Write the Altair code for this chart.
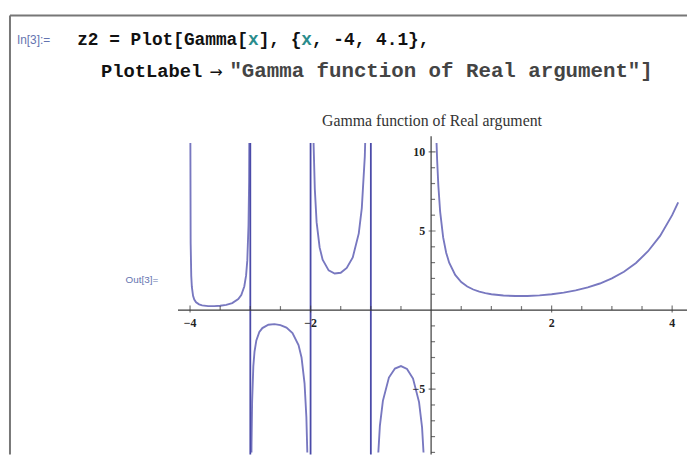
import altair as alt
import pandas as pd

# ---- curve values (Gamma[x] on -4..4.1), one list pair per branch ----
b1_x = [-3.997, -3.99, -3.98, -3.97, -3.95, -3.93, -3.9, -3.85, -3.8, -3.7, -3.6, -3.5, -3.4, -3.3, -3.2, -3.15, -3.1, -3.07, -3.05, -3.03, -3.02, -3.01]
b1_y = [13.9, 4.23, 2.15, 1.46, 0.90, 0.67, 0.49, 0.36, 0.30, 0.25, 0.25, 0.27, 0.33, 0.44, 0.69, 0.95, 1.49, 2.19, 3.14, 5.36, 8.13, 16.5]
b2_x = [-2.99, -2.98, -2.97, -2.95, -2.93, -2.9, -2.85, -2.8, -2.7, -2.6, -2.5, -2.4, -2.3, -2.2, -2.15, -2.1, -2.07, -2.05, -2.03, -2.01]
b2_y = [-16.9, -8.55, -5.78, -3.56, -2.62, -1.92, -1.39, -1.14, -0.93, -0.89, -0.95, -1.11, -1.45, -2.21, -3.00, -4.63, -6.74, -9.58, -16.2, -49.5]
b3_x = [-1.99, -1.97, -1.95, -1.93, -1.9, -1.85, -1.8, -1.7, -1.6, -1.5, -1.4, -1.3, -1.2, -1.15, -1.1, -1.07, -1.05, -1.03, -1.01]
b3_y = [50.5, 17.2, 10.5, 7.68, 5.56, 3.96, 3.19, 2.51, 2.31, 2.36, 2.66, 3.33, 4.85, 6.45, 9.72, 13.9, 19.7, 32.9, 99.6]
b4_x = [-0.99, -0.97, -0.95, -0.93, -0.9, -0.85, -0.8, -0.7, -0.6, -0.5, -0.4, -0.3, -0.2, -0.15, -0.1, -0.07, -0.05, -0.03, -0.01]
b4_y = [-100.4, -33.8, -20.5, -14.8, -10.6, -7.32, -5.74, -4.27, -3.70, -3.54, -3.72, -4.33, -5.82, -7.42, -10.7, -14.9, -20.6, -33.9, -100.6]
b5_x = [0.01, 0.03, 0.05, 0.07, 0.09, 0.1, 0.12, 0.15, 0.2, 0.25, 0.3, 0.4, 0.5, 0.6, 0.7, 0.8, 0.9, 1.0, 1.2, 1.4, 1.46, 1.6, 1.8, 2.0, 2.2, 2.4, 2.6, 2.8, 3.0, 3.2, 3.4, 3.6, 3.8, 4.0, 4.1]
b5_y = [99.4, 32.8, 19.5, 13.8, 10.6, 9.51, 7.88, 6.22, 4.59, 3.63, 2.99, 2.22, 1.77, 1.49, 1.30, 1.16, 1.07, 1.00, 0.92, 0.89, 0.886, 0.89, 0.93, 1.00, 1.10, 1.24, 1.43, 1.68, 2.00, 2.42, 2.98, 3.72, 4.69, 6.00, 6.81]
# vertical joins that the plot draws across the poles
pole_x = [-3, -2, -1]

# ---- axis ticks and labels ----
x_major_ticks = [-4, -2, 2, 4]
x_minor_ticks = [-3.5, -3, -2.5, -1.5, -1, -0.5, 0.5, 1, 1.5, 2.5, 3, 3.5]
x_label_values = [-4, -2, 2, 4]
x_label_texts = ["\u22124", "\u22122", "2", "4"]
y_major_ticks = [-5, 5, 10]
y_minor_ticks = [-9, -8, -7, -6, -4, -3, -2, -1, 1, 2, 3, 4, 6, 7, 8, 9]
y_label_values = [10, 5, -5]
y_label_texts = ["10", "5", "\u22125"]

# ---- texts ----
plot_label = "Gamma function of Real argument"
in_label = "In[3]:="
out_label = "Out[3]="
line1_segments = [("z2 = Plot[Gamma[", "#111111"), ("x", "#2a8c8c"), ("], {", "#111111"),
                  ("x", "#2a8c8c"), (", -4, 4.1},", "#111111")]
line2_label = "PlotLabel"
line2_arrow = "\u2192"
line2_string = "\"Gamma function of Real argument\"]"

# ---- layout (pixels) ----
W, H = 514, 313
PAD_L, PAD_T = 172, 134          # plot area starts at page (180, 142)
OX, OY = 8 + PAD_L, 8 + PAD_T     # page position of plot-area origin
X_DOMAIN = [-4.2, 4.23]
Y_DOMAIN = [-9.0, 10.56]
CURVE = "#7878c0"
POLE = "#4a4aa8"
AXIS = "#3a3a3a"

xs = alt.Scale(domain=X_DOMAIN, nice=False, zero=False)
ys = alt.Scale(domain=Y_DOMAIN, nice=False, zero=False)

rows = []
k = 0
for b, (bx, by) in enumerate([(b1_x, b1_y), (b2_x, b2_y), (b3_x, b3_y), (b4_x, b4_y), (b5_x, b5_y)]):
    for xv, yv in zip(bx, by):
        rows.append({"x": xv, "y": yv, "o": k, "b": b})
        k += 1
curve_df = pd.DataFrame(rows)

curve = alt.Chart(curve_df).mark_line(clip=True, color=CURVE, strokeWidth=1.9).encode(
    x=alt.X("x:Q", scale=xs, axis=None),
    y=alt.Y("y:Q", scale=ys, axis=None),
    detail="b:N",
    order="o:Q",
)

poles = alt.Chart(pd.DataFrame({"p": pole_x})).mark_rule(color=POLE, strokeWidth=1.8).encode(
    x=alt.X("p:Q", scale=xs, axis=None), y=alt.value(0), y2=alt.value(H + 2))

one = pd.DataFrame({"z": [0.0]})
x_axis = alt.Chart(one).mark_rule(color=AXIS, strokeWidth=1.2).encode(
    x=alt.value(0), x2=alt.value(W + 1), y=alt.Y("z:Q", scale=ys, axis=None))
y_axis = alt.Chart(one).mark_rule(color=AXIS, strokeWidth=1.2).encode(
    x=alt.X("z:Q", scale=xs, axis=None), y=alt.value(-7), y2=alt.value(H + 2))

def vticks(vals, size, off):
    return alt.Chart(pd.DataFrame({"v": vals, "z": [0.0] * len(vals)})).mark_tick(
        orient="vertical", size=size, thickness=1.2, color=AXIS, yOffset=off).encode(
        x=alt.X("v:Q", scale=xs, axis=None), y=alt.Y("z:Q", scale=ys, axis=None))

def hticks(vals, size, off):
    return alt.Chart(pd.DataFrame({"v": vals, "z": [0.0] * len(vals)})).mark_tick(
        orient="horizontal", size=size, thickness=1.2, color=AXIS, xOffset=off).encode(
        y=alt.Y("v:Q", scale=ys, axis=None), x=alt.X("z:Q", scale=xs, axis=None))

xt_major = vticks(x_major_ticks, 7, -1)
xt_minor = vticks(x_minor_ticks, 4, -2)
yt_major = hticks(y_major_ticks, 7, 1)
yt_minor = hticks(y_minor_ticks, 4, 2)

x_labels = alt.Chart(pd.DataFrame({"v": x_label_values, "t": x_label_texts, "z": [0.0] * 4})).mark_text(
    dy=13, font="Liberation Serif", fontSize=12, fontWeight="bold", color="#222222").encode(
    x=alt.X("v:Q", scale=xs, axis=None), y=alt.Y("z:Q", scale=ys, axis=None), text="t:N")
y_labels = alt.Chart(pd.DataFrame({"v": y_label_values, "t": y_label_texts, "z": [0.0] * 3})).mark_text(
    align="right", dx=-6, font="Liberation Serif", fontSize=12, fontWeight="bold", color="#222222").encode(
    y=alt.Y("v:Q", scale=ys, axis=None), x=alt.X("z:Q", scale=xs, axis=None), text="t:N")

def page_text(text, px, py, size, color, font, weight="normal", align="left"):
    return alt.Chart(pd.DataFrame({"t": [text]})).mark_text(
        align=align, baseline="middle", font=font, fontSize=size, fontWeight=weight, color=color).encode(
        x=alt.value(px - OX), y=alt.value(py - OY), text="t:N")

layers = [curve, poles, x_axis, y_axis, xt_major, xt_minor, yt_major, yt_minor, x_labels, y_labels]

layers.append(page_text(plot_label, 437, 120, 16, "#333333", "Liberation Serif", align="center"))
layers.append(page_text(in_label, 17, 38, 12, "#6474b0", "Liberation Sans"))
layers.append(page_text(out_label, 127, 281, 10, "#6474b0", "Liberation Sans"))

FS1 = 18
CW1 = 0.6 * FS1
col = 0
for seg, c in line1_segments:
    layers.append(page_text(seg, 78 + col * CW1, 38, FS1, c, "Liberation Mono", "bold"))
    col += len(seg)

FS2 = 19
layers.append(page_text(line2_label, 102, 69, FS2, "#111111", "Liberation Mono", "bold"))
layers.append(page_text(line2_arrow, 212, 70, 16, "#111111", "DejaVu Sans"))
layers.append(page_text(line2_string, 232, 69, 21, "#444444", "Liberation Mono", "bold"))

frame_top = alt.Chart(one).mark_rule(color="#777777", strokeWidth=2).encode(
    x=alt.value(10 - OX), x2=alt.value(695 - OX), y=alt.value(13 - OY))
frame_left = alt.Chart(one).mark_rule(color="#777777", strokeWidth=2).encode(
    x=alt.value(10 - OX), y=alt.value(13 - OY), y2=alt.value(457 - OY))
layers += [frame_top, frame_left]

chart = alt.layer(*layers).properties(
    width=W, height=H,
    background="white",
    autosize=alt.AutoSizeParams(type="none"),
    padding={"left": PAD_L, "top": PAD_T, "right": 1, "bottom": 2},
).configure_view(stroke=None, strokeWidth=0)

chart.save("out.html", embed_options={"renderer": "svg", "actions": False})
